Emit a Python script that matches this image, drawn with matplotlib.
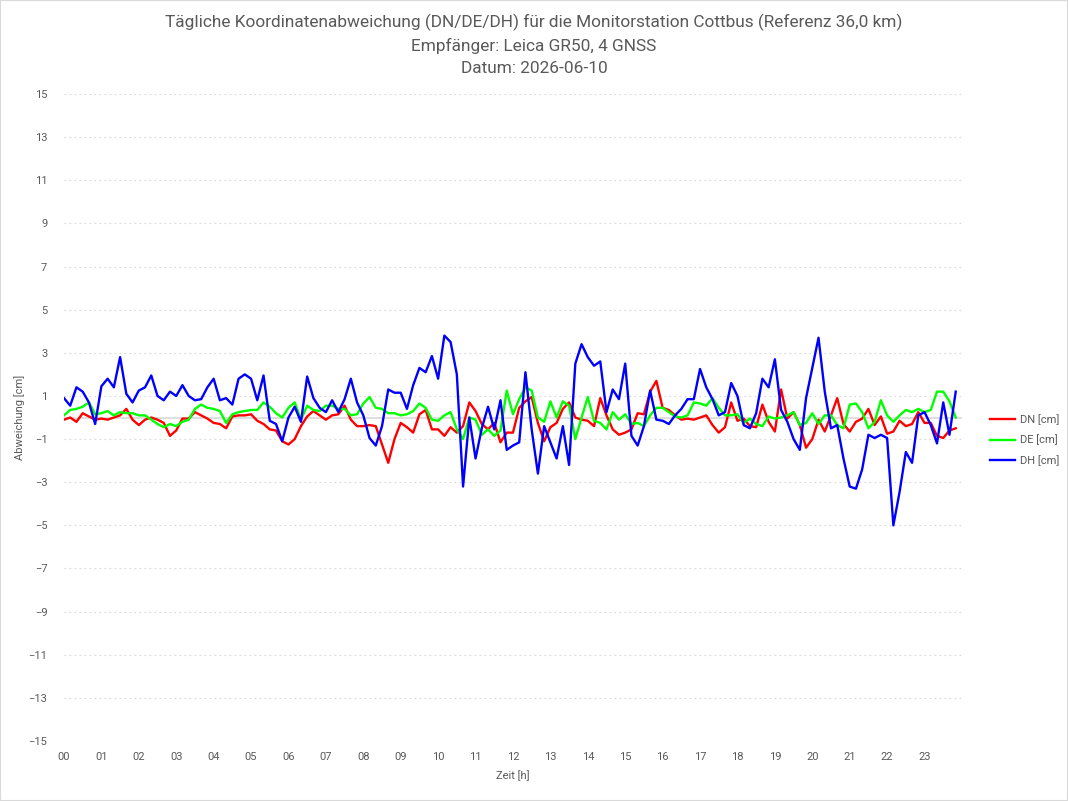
import matplotlib
matplotlib.use("Agg")
import matplotlib.pyplot as plt
import numpy as np
from matplotlib.patches import Rectangle

plt.rcParams['font.family'] = ['Roboto', 'DejaVu Sans']

# 10-minute samples over the day
hours = np.arange(144) / 6.0
hour_labels = ["%02d" % h for h in range(24)]

dn = [-0.1, 0.0, -0.2, 0.2, 0.05, -0.1, -0.05, -0.1, 0.0, 0.1, 0.4, -0.1,
      -0.35, -0.1, 0.0, -0.1, -0.25, -0.85, -0.6, -0.05, -0.05, 0.25, 0.1, -0.05,
      -0.25, -0.3, -0.5, 0.05, 0.1, 0.1, 0.15, -0.15, -0.3, -0.55, -0.6, -1.1,
      -1.25, -1.0, -0.4, 0.05, 0.3, 0.1, -0.1, 0.1, 0.15, 0.55, -0.1, -0.4,
      -0.4, -0.35, -0.4, -1.25, -2.1, -1.0, -0.25, -0.45, -0.7, 0.15, 0.35, -0.55,
      -0.55, -0.85, -0.45, -0.7, -0.4, 0.7, 0.3, -0.3, -0.55, -0.25, -1.15, -0.7,
      -0.7, 0.45, 0.75, 0.95, -0.25, -1.1, -0.45, -0.25, 0.4, 0.7, 0.0, -0.1,
      -0.15, -0.4, 0.9, 0.1, -0.55, -0.8, -0.7, -0.55, 0.2, 0.15, 1.2, 1.7,
      0.45, 0.35, 0.1, -0.1, -0.05, -0.1, 0.0, 0.1, -0.35, -0.7, -0.45, 0.7,
      -0.15, -0.05, -0.4, -0.45, 0.6, -0.2, -0.65, 1.3, -0.05, 0.25, -0.35, -1.4,
      -1.0, -0.1, -0.65, 0.1, 0.9, -0.3, -0.65, -0.2, -0.05, 0.4, -0.35, 0.05,
      -0.75, -0.65, -0.15, -0.4, -0.3, 0.25, -0.25, -0.25, -0.85, -0.95, -0.6, -0.5]

de = [0.1, 0.35, 0.4, 0.5, 0.7, 0.15, 0.2, 0.3, 0.1, 0.25, 0.2, 0.2,
      0.1, 0.1, -0.1, -0.3, -0.45, -0.3, -0.4, -0.2, -0.1, 0.4, 0.6, 0.45,
      0.4, 0.3, -0.25, 0.15, 0.25, 0.3, 0.35, 0.35, 0.7, 0.5, 0.2, 0.0,
      0.45, 0.7, -0.1, 0.55, 0.35, 0.3, 0.55, 0.55, 0.4, 0.4, 0.1, 0.15,
      0.65, 0.95, 0.45, 0.4, 0.2, 0.2, 0.1, 0.15, 0.3, 0.65, 0.45, -0.1,
      -0.15, 0.1, 0.25, -0.55, -1.0, 0.0, -0.1, -0.8, -0.55, -0.85, -0.6, 1.25,
      0.15, 0.85, 1.4, 1.25, 0.0, -0.2, 0.75, 0.0, 0.75, 0.55, -1.0, 0.0,
      0.95, -0.15, -0.25, -0.55, 0.25, -0.1, 0.15, -0.3, -0.25, -0.4, 0.1, 0.45,
      0.45, 0.25, 0.05, 0.0, 0.1, 0.7, 0.65, 0.55, 0.9, 0.45, 0.1, 0.1,
      0.15, -0.25, -0.05, -0.3, -0.4, 0.05, -0.05, 0.0, 0.1, 0.25, -0.35, -0.25,
      0.2, -0.3, 0.1, 0.1, -0.35, -0.5, 0.6, 0.65, 0.25, -0.5, -0.2, 0.8,
      0.1, -0.2, 0.1, 0.35, 0.25, 0.4, 0.25, 0.35, 1.2, 1.2, 0.75, 0.0]

dh = [0.9, 0.55, 1.4, 1.2, 0.7, -0.3, 1.45, 1.8, 1.4, 2.8, 1.1, 0.7,
      1.25, 1.4, 1.95, 1.0, 0.8, 1.2, 1.0, 1.5, 1.0, 0.8, 0.85, 1.4,
      1.8, 0.8, 0.9, 0.6, 1.8, 2.0, 1.8, 0.8, 1.95, -0.15, -0.3, -1.1,
      0.0, 0.5, -0.2, 1.9, 0.9, 0.45, 0.25, 0.8, 0.25, 0.85, 1.8, 0.7,
      0.1, -0.95, -1.3, -0.4, 1.3, 1.15, 1.15, 0.4, 1.5, 2.3, 2.1, 2.85,
      1.8, 3.8, 3.5, 2.0, -3.2, 0.0, -1.9, -0.5, 0.5, -0.55, 0.8, -1.5,
      -1.3, -1.15, 2.1, -0.55, -2.6, -0.4, -1.15, -1.9, -0.4, -2.2, 2.5, 3.4,
      2.8, 2.4, 2.6, 0.25, 1.3, 0.85, 2.5, -0.85, -1.3, -0.4, 1.25, -0.1,
      -0.15, -0.3, 0.1, 0.4, 0.85, 0.85, 2.25, 1.4, 0.85, 0.1, 0.25, 1.6,
      1.0, -0.35, -0.5, 0.2, 1.8, 1.4, 2.7, 0.35, -0.2, -1.0, -1.5, 0.9,
      2.3, 3.7, 1.2, -0.5, -0.35, -1.9, -3.2, -3.3, -2.4, -0.8, -0.95, -0.8,
      -0.95, -5.0, -3.45, -1.6, -2.1, 0.1, 0.25, -0.35, -1.2, 0.7, -0.8, 1.2]

grey = "#595959"
fig = plt.figure(figsize=(10.68, 8.01), dpi=100)
fig.patches.append(Rectangle((0, 0), 1, 1, transform=fig.transFigure,
                             fill=False, edgecolor="#d9d9d9", linewidth=1.5))
ax = fig.add_axes([0.0599, 0.0749, 0.8408, 0.8077])

ax.plot(hours, dn, color="#ff0000", linewidth=1.7, label="DN [cm]")
ax.plot(hours, de, color="#00ff00", linewidth=1.7, label="DE [cm]")
ax.plot(hours, dh, color="#0000ff", linewidth=1.7, label="DH [cm]")

ax.set_xlim(0, 24)
ax.set_ylim(-15, 15)
ax.set_xticks(range(24))
ax.set_xticklabels(hour_labels)
ax.set_yticks(range(-15, 16, 2))
for s in ax.spines.values():
    s.set_visible(False)
ax.grid(axis="y", color="#d9d9d9", linestyle=(0, (1.5, 3)), linewidth=0.8)
ax.axhline(0, color="#d9d9d9", linewidth=1.2, zorder=0)
ax.tick_params(length=0, colors=grey, labelsize=8, pad=8)
ax.tick_params(axis="y", pad=12)

ax.set_xlabel("Zeit [h]", color=grey, fontsize=8, labelpad=6)
ax.set_ylabel("Abweichung [cm]", color=grey, fontsize=8)
ax.yaxis.set_label_coords(-0.043, 0.5)

fig.text(0.5, 0.983, "Tägliche Koordinatenabweichung (DN/DE/DH) für die Monitorstation Cottbus (Referenz 36,0 km)\n"
         "Empfänger: Leica GR50, 4 GNSS\nDatum: 2026-06-10",
         ha="center", va="top", color=grey, fontsize=12.4, linespacing=1.55)

ax.legend(loc="center left", bbox_to_anchor=(1.02, 0.465), frameon=False,
          fontsize=8, labelcolor=grey, handlelength=2.3, handletextpad=0.4,
          labelspacing=0.9)

fig.savefig("out.png", dpi=100)
